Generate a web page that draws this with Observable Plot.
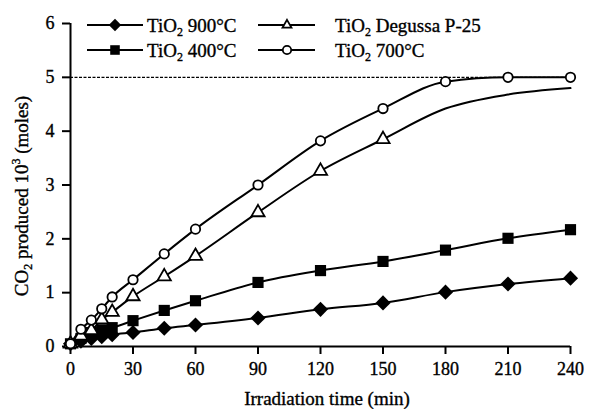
<!DOCTYPE html>
<html>
<head>
<meta charset="utf-8">
<script src="https://cdn.jsdelivr.net/npm/d3@7"></script>
<script src="https://cdn.jsdelivr.net/npm/@observablehq/plot@0.6"></script>
<style>
  html, body { margin: 0; padding: 0; background: #fff; }
  #chart { width: 589px; height: 409px; }
</style>
</head>
<body>
<div id="chart"></div>
<script>
// ---- data ----
const times = [0, 5, 10, 15, 20, 30, 45, 60, 90, 120, 150, 180, 210, 240];
const tio2_900 = [0.05, 0.1, 0.15, 0.18, 0.22, 0.26, 0.34, 0.4, 0.53, 0.69, 0.81, 1.01, 1.16, 1.27];
const tio2_400 = [0.05, 0.15, 0.26, 0.31, 0.35, 0.48, 0.67, 0.85, 1.19, 1.41, 1.58, 1.79, 2.01, 2.17];
const tio2_700 = [0.05, 0.32, 0.49, 0.7, 0.92, 1.24, 1.72, 2.18, 3.0, 3.82, 4.42, 4.92, 5.0, 5.0];
const p25Times = [0, 5, 10, 15, 20, 30, 45, 60, 90, 120, 150];
const tio2_p25 = [0.05, 0.2, 0.3, 0.5, 0.64, 0.93, 1.3, 1.68, 2.49, 3.26, 3.85];
const p25FitTimes = [180, 210, 240];
const p25FitValues = [4.42, 4.68, 4.8];
const limitValue = 5;
const xTicks = [0, 30, 60, 90, 120, 150, 180, 210, 240];
const yTicks = [0, 1, 2, 3, 4, 5, 6];
const legendLabels = ["900°C", "Degussa P-25", "400°C", "700°C"];
const legendSymbols = ["diamond2", "triangle", "square", "circle"];

const mk = (name, ts, vs) => vs.map((v, i) => ({name, t: ts[i], v}));
const d900 = mk("900", times, tio2_900);
const d400 = mk("400", times, tio2_400);
const d700 = mk("700", times, tio2_700);
const dP25 = mk("P25", p25Times, tio2_p25);
const dP25Line = dP25.concat(mk("P25", p25FitTimes, p25FitValues));

const FONT = "'Liberation Serif', 'Times New Roman', serif";
const W = 589, H = 409;
const symStyle = {
  diamond2: {fill: "black", stroke: "none", r: 6.8, lr: 5.6},
  square: {fill: "black", stroke: "none", r: 6.3, lr: 5.4},
  triangle: {fill: "white", stroke: "black", r: 4.9, lr: 3.3},
  circle: {fill: "white", stroke: "black", r: 4.7, lr: 4.2}
};

const plot = Plot.plot({
  width: W, height: H,
  marginLeft: 70, marginRight: 19, marginTop: 23, marginBottom: 63,
  style: {fontFamily: FONT, fontSize: "18px", color: "black", background: "white"},
  x: {domain: [0, 240], ticks: xTicks, label: null},
  y: {domain: [0, 6], ticks: yTicks, label: null},
  marks: [
    Plot.ruleY([limitValue], {x1: 0, x2: 240, stroke: "black", strokeWidth: 1.4, strokeDasharray: "3,1.5"}),
    Plot.axisX({ticks: xTicks, tickSize: 8, tickPadding: 8, strokeWidth: 2, label: null, fontSize: 18}),
    Plot.axisY({ticks: yTicks, tickSize: 8, tickPadding: 8, strokeWidth: 2, label: null, fontSize: 18, tickFormat: "d"}),
    Plot.ruleY([0], {x1: 0, x2: 240, stroke: "black", strokeWidth: 2}),
    Plot.ruleX([0], {y1: 0, y2: 6, stroke: "black", strokeWidth: 2}),
    Plot.line(d900, {x: "t", y: "v", stroke: "black", strokeWidth: 2, curve: "monotone-x"}),
    Plot.line(d400, {x: "t", y: "v", stroke: "black", strokeWidth: 2, curve: "monotone-x"}),
    Plot.line(d700, {x: "t", y: "v", stroke: "black", strokeWidth: 2, curve: "monotone-x"}),
    Plot.line(dP25Line, {x: "t", y: "v", stroke: "black", strokeWidth: 2, curve: "monotone-x"}),
    Plot.dot(d900, {x: "t", y: "v", symbol: "diamond2", fill: "black", stroke: "none", r: symStyle.diamond2.r}),
    Plot.dot(d400, {x: "t", y: "v", symbol: "square", fill: "black", stroke: "none", r: symStyle.square.r}),
    Plot.dot(dP25, {x: "t", y: "v", symbol: "triangle", fill: "white", stroke: "black", strokeWidth: 1.8, r: symStyle.triangle.r}),
    Plot.dot(d700, {x: "t", y: "v", symbol: "circle", fill: "white", stroke: "black", strokeWidth: 1.8, r: symStyle.circle.r})
  ]
});

document.getElementById("chart").appendChild(plot);

const svg = d3.select(plot);
const symMap = {diamond2: d3.symbolDiamond2, square: d3.symbolSquare, triangle: d3.symbolTriangle, circle: d3.symbolCircle};

// Legend (inside plot area, two columns)
const cols = [{x0: 87, x1: 143, xm: 115, xt: 147}, {x0: 258, x1: 315, xm: 287, xt: 335}];
const rowsY = [25, 50];
legendLabels.forEach((label, i) => {
  const s = legendSymbols[i], st = symStyle[s];
  const c = cols[i % 2], y = rowsY[Math.floor(i / 2)];
  const g = svg.append("g");
  g.append("line").attr("x1", c.x0).attr("x2", c.x1).attr("y1", y).attr("y2", y)
    .attr("stroke", "black").attr("stroke-width", 2);
  g.append("path").attr("transform", `translate(${c.xm},${y})`)
    .attr("d", d3.symbol(symMap[s], Math.PI * st.lr * st.lr)())
    .attr("fill", st.fill).attr("stroke", st.stroke).attr("stroke-width", 1.8);
  const t = g.append("text").attr("x", c.xt).attr("y", y + 7).attr("text-anchor", "start")
    .attr("font-family", FONT).attr("font-size", 19).attr("fill", "black");
  t.append("tspan").text("TiO");
  t.append("tspan").attr("font-size", 12).attr("dy", 4).text("2");
  t.append("tspan").attr("dy", -4).text(" " + label);
});

// Y axis title
const yt = svg.append("text").attr("transform", "translate(28,196) rotate(-90)")
  .attr("text-anchor", "middle").attr("font-family", FONT).attr("font-size", 19).attr("fill", "black");
yt.append("tspan").text("CO");
yt.append("tspan").attr("font-size", 12).attr("dy", 4).text("2");
yt.append("tspan").attr("dy", -4).text(" produced 10");
yt.append("tspan").attr("font-size", 12).attr("dy", -8).text("3");
yt.append("tspan").attr("dy", 8).text(" (moles)");

// X axis title
svg.append("text").attr("x", 327).attr("y", 405).attr("text-anchor", "middle")
  .attr("font-family", FONT).attr("font-size", 19).attr("fill", "black")
  .text("Irradiation time (min)");

// heavier ink like the scanned original
svg.selectAll("text").attr("stroke", "black").attr("stroke-width", 0.35);
</script>
</body>
</html>
